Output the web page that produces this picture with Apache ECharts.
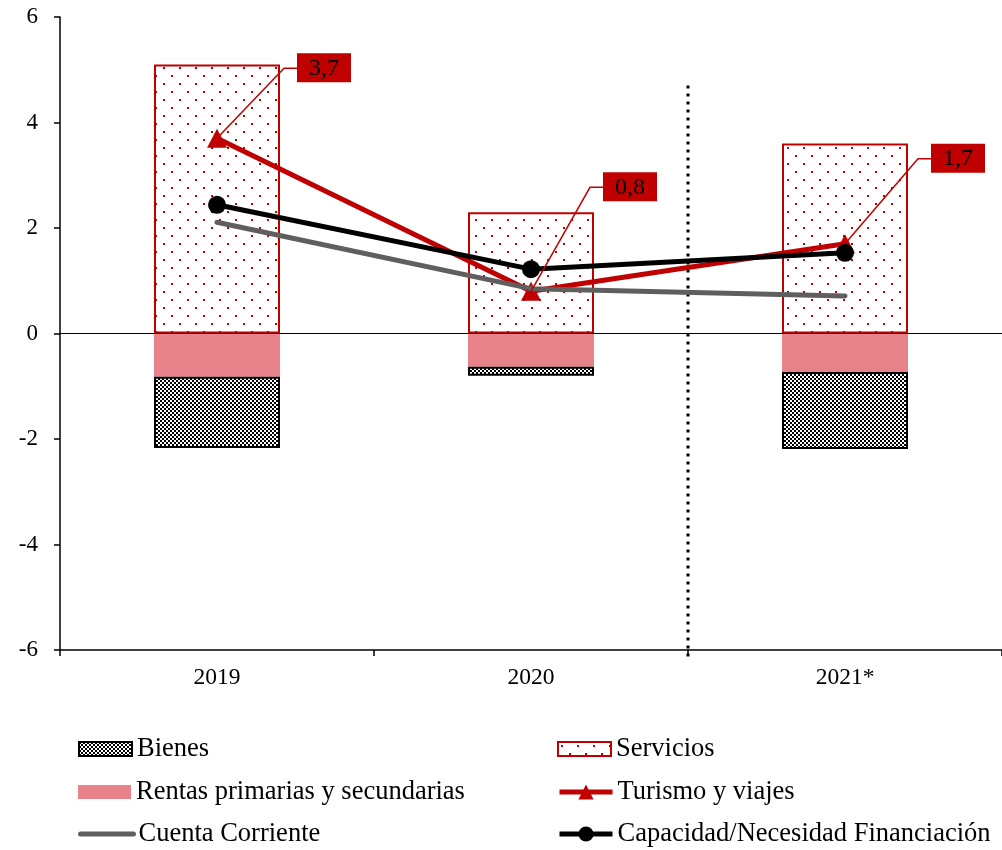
<!DOCTYPE html>
<html>
<head>
<meta charset="utf-8">
<script src="https://cdn.jsdelivr.net/npm/echarts@6/dist/echarts.min.js"></script>
<style>
    html, body { margin: 0; padding: 0; background: #fff; }
    #main { width: 1002px; height: 850px; }
</style>
</head>
<body>
<div id="main"></div>
<script>
    // datos (% PIB)
    var years = ['2019', '2020', '2021*'];
    var servicios = [5.1, 2.3, 3.6];
    var rentas = [-0.82, -0.63, -0.73];
    var bienes = [-1.35, -0.17, -1.46];
    var turismo = [3.7, 0.8, 1.7];
    var cuentaCorriente = [2.11, 0.85, 0.71];
    var capacidad = [2.44, 1.22, 1.53];

    // linea vertical de separacion (entre 2020 y 2021*, en unidades de categoria)
    var dividerAt = 2;
    var dividerTop = 4.7;
    var dividerBottom = -6.2;

    // desplazamiento de las etiquetas de turismo (px)
    var calloutOffsets = [[67, -70], [59, -104], [73, -85]];

    // leyenda: una fila por elemento (posicion en px)
    var legendRows = [
        { name: 'Bienes', left: 78, cy: 749, h: 14, icon: 'rect' },
        { name: 'Rentas primarias y secundarias', left: 78, cy: 792, h: 14, icon: 'rect' },
        { name: 'Cuenta Corriente', left: 78, cy: 834, h: 19, noSymbol: true },
        { name: 'Servicios', left: 557, cy: 749, h: 14, icon: 'rect' },
        { name: 'Turismo y viajes', left: 557, cy: 792, h: 19 },
        { name: 'Capacidad/Necesidad Financiación', left: 557, cy: 834, h: 19 }
    ];

    var RED = '#C00000';
    var FONT = 'Liberation Serif';

    // tramas
    function dotsPattern() {
        var c = document.createElement('canvas');
        c.width = 16; c.height = 16;
        var ctx = c.getContext('2d');
        ctx.fillStyle = '#fff';
        ctx.fillRect(0, 0, 16, 16);
        ctx.fillStyle = RED;
        ctx.fillRect(3, 3, 2, 2);
        ctx.fillRect(11, 11, 2, 2);
        return { image: c, repeat: 'repeat' };
    }
    function checkerPattern() {
        var c = document.createElement('canvas');
        c.width = 4; c.height = 4;
        var ctx = c.getContext('2d');
        ctx.fillStyle = '#fff';
        ctx.fillRect(0, 0, 4, 4);
        ctx.fillStyle = '#000';
        ctx.fillRect(0, 0, 2, 2);
        ctx.fillRect(2, 2, 2, 2);
        return { image: c, repeat: 'repeat' };
    }

    function fmt(v) {
        return v.toFixed(1).replace('.', ',');
    }

    var legends = legendRows.map(function (r) {
        var item = { name: r.name };
        if (r.icon) item.icon = r.icon;
        if (r.noSymbol) item.itemStyle = { opacity: 0 };
        return {
            orient: 'horizontal',
            left: r.left,
            top: r.cy - 14,
            padding: 0,
            itemWidth: 53,
            itemHeight: r.h,
            lineStyle: { width: 5 },
            textStyle: { fontFamily: FONT, fontSize: 26.5, color: '#000', lineHeight: 28 },
            data: [item]
        };
    });

    var myChart = echarts.init(document.getElementById('main'), null, { renderer: 'canvas' });

    myChart.setOption({
        animation: false,
        textStyle: { fontFamily: FONT },
        grid: { left: 60, top: 17, width: 951, height: 633 },
        legend: legends,
        xAxis: [
            {
                type: 'category',
                data: years,
                axisLine: { show: true, onZero: false, lineStyle: { color: '#000', width: 1.5 } },
                axisTick: { show: true, length: 6, lineStyle: { color: '#000', width: 1.5 } },
                axisLabel: { color: '#000', fontSize: 23.5, fontFamily: FONT, margin: 16 },
                splitLine: { show: false }
            },
            { type: 'value', min: 0, max: 3, show: false }
        ],
        yAxis: {
            type: 'value',
            min: -6,
            max: 6,
            interval: 2,
            axisLine: { show: true, lineStyle: { color: '#000', width: 1.5 } },
            axisTick: { show: true, length: 6, lineStyle: { color: '#000', width: 1.5 } },
            axisLabel: { color: '#000', fontSize: 23, fontFamily: FONT, margin: 22 },
            splitLine: { show: false }
        },
        series: [
            {
                name: 'Servicios',
                type: 'bar',
                stack: 'cc',
                barWidth: 126,
                z: 2,
                data: servicios,
                itemStyle: { color: dotsPattern(), borderColor: RED, borderWidth: 2 },
                markLine: {
                    silent: true,
                    symbol: 'none',
                    label: { show: false },
                    lineStyle: { color: '#000', width: 1, type: 'solid' },
                    data: [{ yAxis: 0 }]
                }
            },
            {
                name: 'Rentas primarias y secundarias',
                type: 'bar',
                stack: 'cc',
                z: 2,
                data: rentas,
                itemStyle: { color: '#E8838C' }
            },
            {
                name: 'Bienes',
                type: 'bar',
                stack: 'cc',
                z: 2,
                data: bienes,
                itemStyle: { color: checkerPattern(), borderColor: '#000', borderWidth: 2 }
            },
            {
                name: 'Turismo y viajes',
                type: 'line',
                z: 3,
                data: turismo,
                symbol: 'triangle',
                symbolSize: [20, 19],
                itemStyle: { color: RED },
                lineStyle: { color: RED, width: 5 }
            },
            {
                name: 'Cuenta Corriente',
                type: 'line',
                z: 4,
                data: cuentaCorriente,
                symbol: 'none',
                itemStyle: { color: '#5F5F5F' },
                lineStyle: { color: '#5F5F5F', width: 5, cap: 'round' }
            },
            {
                name: 'Capacidad/Necesidad Financiación',
                type: 'line',
                z: 5,
                data: capacidad,
                symbol: 'circle',
                symbolSize: 18,
                itemStyle: { color: '#000' },
                lineStyle: { color: '#000', width: 5 }
            },
            {
                // etiquetas de turismo con linea guia
                name: 'etiquetas',
                type: 'custom',
                z: 10,
                silent: true,
                data: turismo.map(function (v, i) { return [i, v]; }),
                encode: { x: 0, y: 1 },
                renderItem: function (params, api) {
                    var i = params.dataIndex;
                    var v = api.value(1);
                    var pt = api.coord([api.value(0), v]);
                    var off = calloutOffsets[i];
                    var bend = [pt[0] + off[0], pt[1] + off[1]];
                    var bx = bend[0] + 13;
                    return {
                        type: 'group',
                        children: [
                            {
                                type: 'polyline',
                                shape: { points: [pt, bend, [bx, bend[1]]] },
                                style: { stroke: RED, lineWidth: 1.5, fill: null }
                            },
                            {
                                type: 'rect',
                                shape: { x: bx, y: bend[1] - 15, width: 54, height: 29 },
                                style: { fill: RED }
                            },
                            {
                                type: 'text',
                                style: {
                                    text: fmt(v),
                                    x: bx + 27,
                                    y: bend[1],
                                    align: 'center',
                                    verticalAlign: 'middle',
                                    font: '24px "Liberation Serif"',
                                    fill: '#000'
                                }
                            }
                        ]
                    };
                }
            },
            {
                // separador punteado
                name: 'separador',
                type: 'line',
                xAxisIndex: 1,
                silent: true,
                clip: false,
                symbol: 'none',
                z: 1,
                data: [[dividerAt, dividerTop], [dividerAt, dividerBottom]],
                lineStyle: { color: '#000', width: 3, type: [3, 5], cap: 'butt' }
            }
        ]
    });
</script>
</body>
</html>
